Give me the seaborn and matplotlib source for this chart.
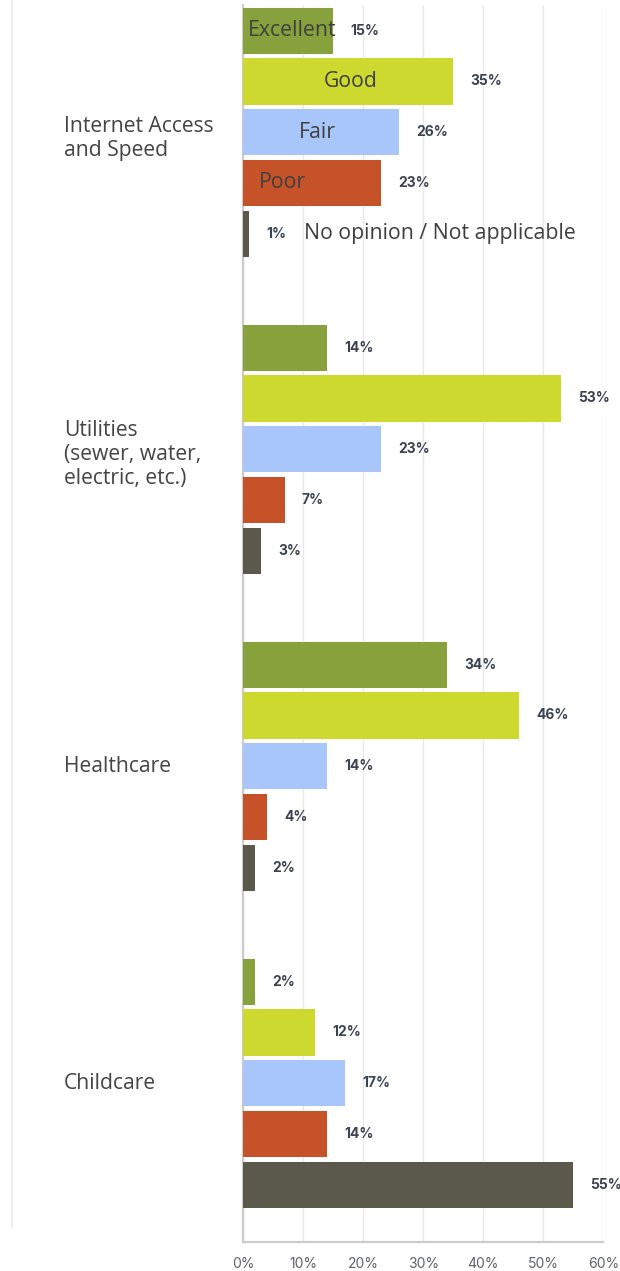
import matplotlib
matplotlib.use("Agg")
import matplotlib.pyplot as plt
import matplotlib.transforms as mtransforms
from matplotlib.lines import Line2D
import pandas as pd
import seaborn as sns

# Survey results: share of respondents rating each local service
services = [
    "Internet Access\nand Speed",
    "Utilities\n(sewer, water,\nelectric, etc.)",
    "Healthcare",
    "Childcare",
]
ratings = ["Excellent", "Good", "Fair", "Poor", "No opinion / Not applicable"]
excellent = [15, 14, 34, 2]
good = [35, 53, 46, 12]
fair = [26, 23, 14, 17]
poor = [23, 7, 4, 14]
no_opinion = [1, 3, 2, 55]
x_ticks = [0, 10, 20, 30, 40, 50, 60]
x_tick_labels = ["0%", "10%", "20%", "30%", "40%", "50%", "60%"]

colors = ["#87a13c", "#cdd92f", "#a8c6fa", "#c65229", "#5b594b"]

rows = []
for rating, values in zip(ratings, [excellent, good, fair, poor, no_opinion]):
    for service, v in zip(services, values):
        rows.append({"service": service, "rating": rating, "pct": v})
df = pd.DataFrame(rows)

sns.set_theme(style="white")
plt.rcParams["font.family"] = ["Open Sans", "DejaVu Sans"]

W, H = 620, 1271
fig = plt.figure(figsize=(W / 100, H / 100), dpi=100)
x0, x1 = 243.3, 603.3
y_top, y_bot = 5.4, 1241.7
ax = fig.add_axes([x0 / W, 1 - y_bot / H, (x1 - x0) / W, (y_bot - y_top) / H])

sns.barplot(
    data=df, y="service", x="pct", hue="rating", hue_order=ratings,
    order=services, palette=colors, orient="h", width=0.8, gap=0.09,
    saturation=1, legend=False, ax=ax, zorder=3, linewidth=0, edgecolor="none",
)

ax.set_xlim(0, 60)
ax.set_ylim(3.5, -0.4)
ax.set_xticks(x_ticks)
ax.set_xticklabels(x_tick_labels, family=["Inter", "DejaVu Sans"],
                   fontsize=10, color="#5f6368")
ax.tick_params(axis="x", length=0, pad=11)
ax.set_yticks([])
ax.set_xlabel("")
ax.set_ylabel("")
ax.grid(axis="x", color="#e8e8e8", linewidth=1, zorder=0)
ax.set_axisbelow(True)
for side in ("top", "right"):
    ax.spines[side].set_visible(False)
for side in ("left", "bottom"):
    ax.spines[side].set_color("#cccccc")
    ax.spines[side].set_linewidth(1.6)

# value labels beside each bar
for container in ax.containers:
    ax.bar_label(
        container, labels=[f"{v:g}%" for v in container.datavalues],
        padding=12, fontsize=10, fontweight="bold", color="#3c4350",
        family=["Inter", "DejaVu Sans"],
    )

# category names in the left margin
label_tf = mtransforms.blended_transform_factory(fig.transFigure, ax.transData)
label_offsets = [0.02, 0.016, 0.0, 0.0]
for i, (service, dy) in enumerate(zip(services, label_offsets)):
    ax.text(64 / W, i + dy, service, transform=label_tf, ha="left", va="center",
            fontsize=15.2, color="#444444", linespacing=1.18)

# series names set inline next to the first group of bars
name_pos = [(8.1, "center"), (17.9, "center"), (12.3, "center"), (6.6, "center"), (10.1, "left")]
n = len(ratings)
for k, (rating, (xp, ha)) in enumerate(zip(ratings, name_pos)):
    yc = -0.4 + 0.8 * (k + 0.5) / n
    ax.text(xp, yc, rating, ha=ha, va="center", fontsize=15.3, color="#3f3f3f", zorder=5)

# thin frame line at the far left
fig.add_artist(Line2D([12 / W, 12 / W], [1, 1 - 1227 / H], transform=fig.transFigure,
                      color="#eeeeee", linewidth=1.5))

fig.savefig("out.png", dpi=100, facecolor="white")
